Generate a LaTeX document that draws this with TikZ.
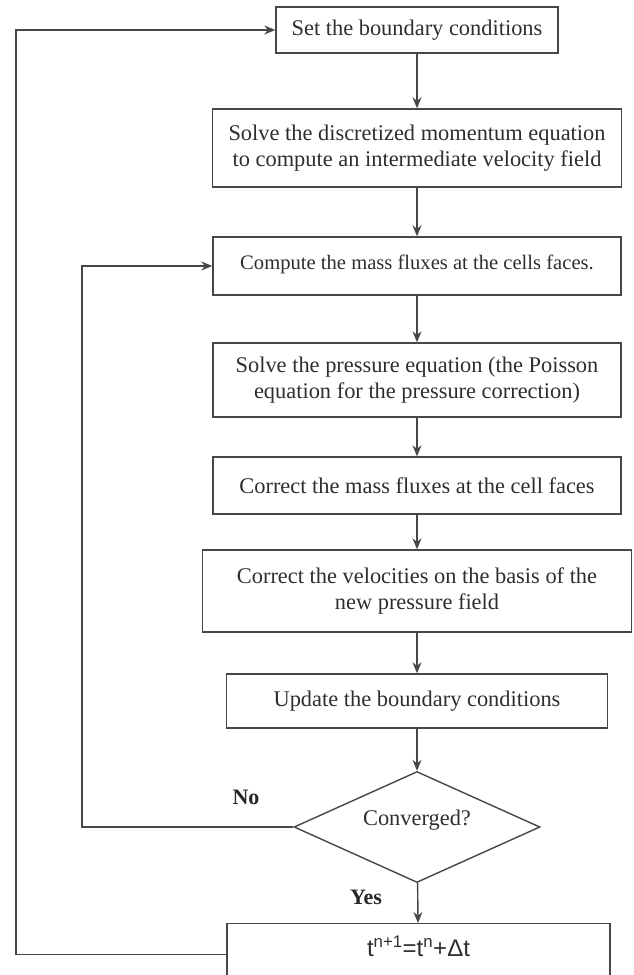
\documentclass[tikz,border=0pt]{standalone}
\usepackage{fontspec}
\setmainfont{Liberation Serif}
\newfontfamily\formfont{Liberation Sans}
\usetikzlibrary{arrows.meta,shapes.geometric}

\begin{document}
\begin{tikzpicture}[x=1pt,y=-1pt,
    box/.style={draw=black!72,line width=1.4pt,text=black!82,align=center,
      inner sep=0pt,font=\fontsize{22.4}{26}\selectfont},
    flow/.style={draw=black!72,line width=1.4pt,-{Stealth[length=11pt,width=9pt]}},
    answer/.style={text=black!85,font=\fontsize{22}{26}\selectfont\bfseries}]
  \useasboundingbox (0,0) rectangle (633,975);

  % steps of the loop
  \node[box,minimum width=282pt,minimum height=46pt] (setbc) at (417,30) {Set the boundary conditions};
  \node[box,minimum width=409pt,minimum height=78pt] (momentum) at (417,148)
    {Solve the discretized momentum equation\\to compute an intermediate velocity field};
  \node[box,minimum width=408pt,minimum height=58pt,text height=16pt,text depth=10pt,
    font=\fontsize{20.6}{24}\selectfont] (fluxes) at (417,266) {Compute the mass fluxes at the cells faces.};
  \node[box,minimum width=408pt,minimum height=74pt] (pressure) at (417,380)
    {Solve the pressure equation (the Poisson\\equation for the pressure correction)};
  \node[box,minimum width=408pt,minimum height=57pt] (corrflux) at (417,485.5) {Correct the mass fluxes at the cell faces};
  \node[box,minimum width=429pt,minimum height=82pt] (corrvel) at (417,591)
    {Correct the velocities on the basis of the\\new pressure field};
  \node[box,minimum width=381pt,minimum height=54pt] (updbc) at (417,701) {Update the boundary conditions};
  \node[box,diamond,aspect=2.2,minimum width=246pt,minimum height=111pt,text height=12pt,text depth=16pt]
    (conv) at (417,827) {Converged?};
  \node[box,anchor=north,minimum width=383pt,text height=33pt,text depth=50pt,font=\formfont\fontsize{24}{28}\selectfont]
    (tstep) at (418.5,923) {t\textsuperscript{n+1}=t\textsuperscript{n}+Δt};

  \node[answer] (no) at (246,797) {No};
  \node[answer] (yes) at (366,897) {Yes};

  % main flow
  \draw[flow] (setbc) -- (momentum);
  \draw[flow] (momentum) -- (fluxes);
  \draw[flow] (fluxes) -- (pressure);
  \draw[flow] (pressure) -- (corrflux);
  \draw[flow] (corrflux) -- (corrvel);
  \draw[flow] (corrvel) -- (updbc);
  \draw[flow] (updbc) -- (conv);
  \draw[flow] (conv) -- (tstep);

  % loops back
  \coordinate (inner) at (82,0);
  \coordinate (outer) at (16,0);
  \draw[flow] (conv.west) -- (conv.west -| inner) -- (fluxes.west -| inner) -- (fluxes.west);
  \draw[flow] (tstep.mid west) -- (tstep.mid west -| outer) -- (setbc.west -| outer) -- (setbc.west);
\end{tikzpicture}
\end{document}
